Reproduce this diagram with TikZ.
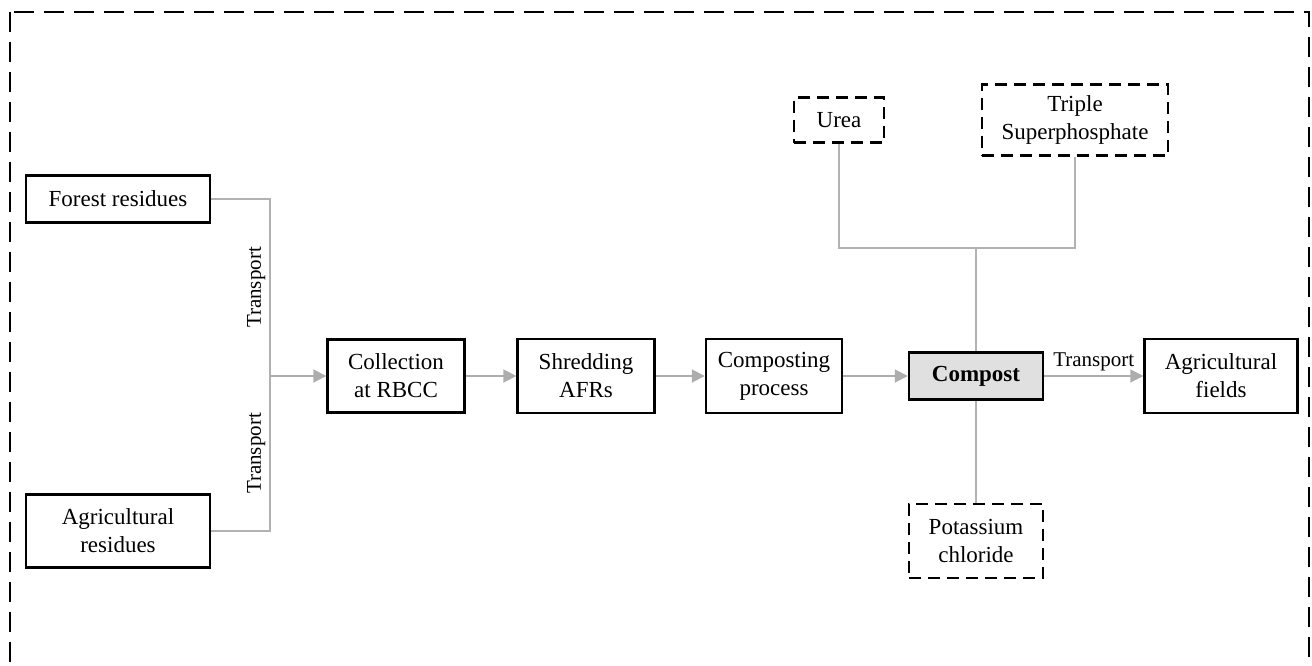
\documentclass[tikz,border=0pt]{standalone}
\usepackage{fontspec}
\setmainfont{Liberation Serif}
\usepackage{tikz}
\usetikzlibrary{arrows.meta}
\tikzset{
	stage/.style={draw=black, line width=1.2pt, align=center, inner sep=2pt, font=\fontsize{11.5}{14}\selectfont},
	addin/.style={stage, dash pattern=on 6pt off 3.5pt},
	feed/.style={draw=black!30, line width=0.6pt},
	flow/.style={draw=black!32, line width=0.9pt, -{Triangle[length=6.5pt,width=6.5pt]}, black!32},
	tag/.style={font=\fontsize{10.5}{12}\selectfont, inner sep=2pt}
}

\begin{document}
\begin{tikzpicture}[x=0.5pt, y=-0.5pt]
			%%%%% START %%%%%
			\useasboundingbox (0, 0) rectangle (1312, 665);
			\clip (0, 0) rectangle (1312, 665);
			
			\draw[line width=1.4pt, dash pattern=on 10pt off 5pt] (10, 12) rectangle (1309, 720);
			
			\node[stage, minimum width=92pt, minimum height=23.5pt] (forest) at (118, 199) {Forest residues};
			\node[stage, minimum width=92pt, minimum height=36.5pt] (agri) at (118, 531) {Agricultural\\residues};
			
			\node[stage, minimum width=68.5pt, minimum height=36.5pt] (coll) at (396, 376) {Collection\\at RBCC};
			\node[stage, minimum width=68.5pt, minimum height=37pt] (shred) at (586, 376) {Shredding\\AFRs};
			\node[stage, minimum width=68pt, minimum height=37pt] (compo) at (774, 376) {Composting\\process};
			\node[stage, fill=black!12, minimum width=67pt, minimum height=23.5pt, font=\fontsize{11.5}{14}\selectfont\bfseries] (compost) at (976, 376) {Compost};
			\node[stage, minimum width=76.5pt, minimum height=37pt] (fields) at (1221, 376) {Agricultural\\fields};
			
			\node[addin, minimum width=45pt, minimum height=22.5pt] (urea) at (839, 120) {Urea};
			\node[addin, minimum width=93pt, minimum height=35.5pt] (tsp) at (1075, 120) {Triple\\Superphosphate};
			\node[addin, minimum width=67pt, minimum height=37pt] (potash) at (976, 541) {Potassium\\chloride};
			
			\coordinate (jn) at (270, 376);
			\coordinate (ju) at (976, 248);
			
			% residues to the collection centre
			\draw[feed] (forest.east) -| (jn) node[pos=0.75, rotate=90, anchor=south, tag, black] {Transport};
			\draw[feed] (agri.east) -| (jn) node[pos=0.75, rotate=90, anchor=south, tag, black] {Transport};
			\draw[flow] (jn) -- (coll.west);
			\draw[flow] (coll.east) -- (shred.west);
			\draw[flow] (shred.east) -- (compo.west);
			\draw[flow] (compo.east) -- (compost.west);
			\draw[flow] (compost.east) -- node[above, tag, black] {Transport} (fields.west);
			
			% fertilisers
			\draw[feed] (urea.south) |- (ju) -| (tsp.south);
			\draw[feed] (ju) -- (compost.north);
			\draw[feed] (compost.south) -- (potash.north);
			%%%%% END %%%%%
		\end{tikzpicture}
\end{document}
